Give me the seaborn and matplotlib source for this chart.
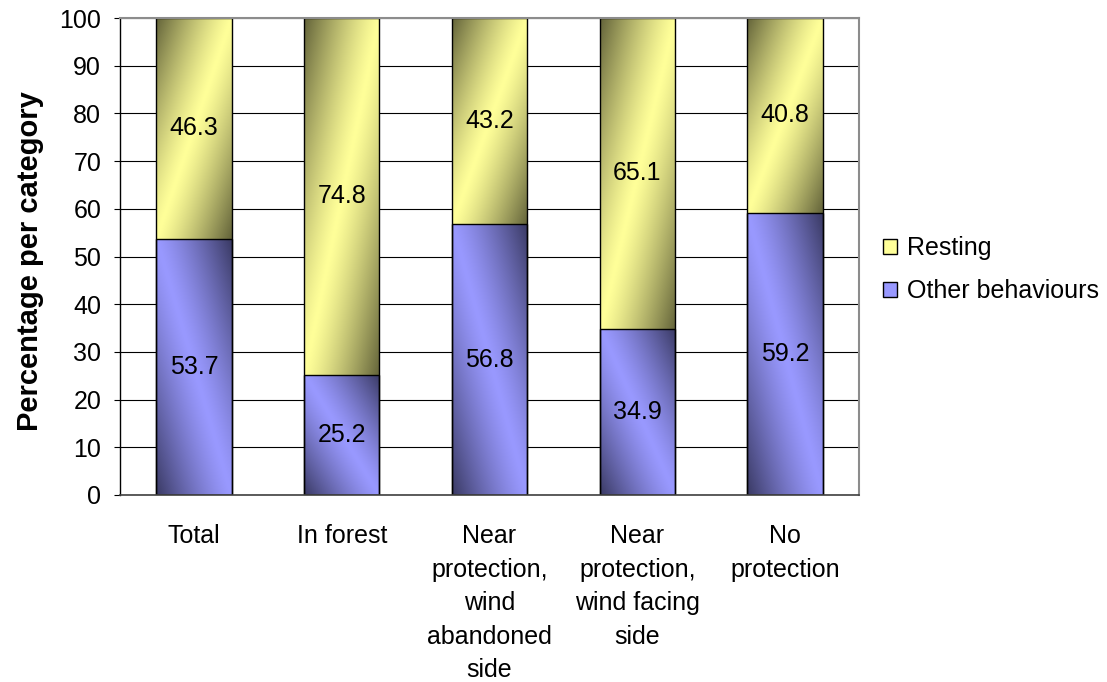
import numpy as np
import pandas as pd
import matplotlib
matplotlib.use("Agg")
import matplotlib.pyplot as plt
from matplotlib.patches import Patch
import seaborn as sns

# Data
categories = ["Total", "In forest",
              "Near\nprotection,\nwind\nabandoned\nside",
              "Near\nprotection,\nwind facing\nside",
              "No\nprotection"]
other_behaviours = [53.7, 25.2, 56.8, 34.9, 59.2]
resting = [46.3, 74.8, 43.2, 65.1, 40.8]

yellow = np.array([255, 255, 153]) / 255.0
blue = np.array([153, 153, 255]) / 255.0
yellow_dark = np.array([100, 100, 58]) / 255.0
blue_dark = np.array([58, 58, 100]) / 255.0

df = pd.DataFrame({
    "category": categories,
    "other": other_behaviours,
    "resting": resting,
})
df["total"] = df["other"] + df["resting"]

sns.set_style("white")
plt.rcParams["font.family"] = ["Liberation Sans", "DejaVu Sans"]
plt.rcParams["text.color"] = "black"
plt.rcParams["axes.labelcolor"] = "black"
plt.rcParams["xtick.color"] = "black"
plt.rcParams["ytick.color"] = "black"

fig = plt.figure(figsize=(11.07, 6.82), dpi=100)
ax = fig.add_axes([0.1084, 0.2742, 0.6676, 0.6994])

bar_w = 0.51
sns.barplot(data=df, x="category", y="total", color=yellow, saturation=1,
            width=bar_w, edgecolor="black", linewidth=1.0, ax=ax)
sns.barplot(data=df, x="category", y="other", color=blue, saturation=1,
            width=bar_w, edgecolor="black", linewidth=1.0, ax=ax)

n = len(categories)
patches = list(ax.patches)
top_patches = patches[:n]
bottom_patches = patches[n:2 * n]


def gradient(light, dark, flip, nx=60, ny=200):
    u = np.linspace(0, 1, nx)[None, :]
    v = np.linspace(0, 1, ny)[:, None]
    t = (u + (1 - v)) / 2 if flip else (u + v) / 2
    f = np.abs(2 * t - 1) ** 1.25
    return light[None, None, :] * (1 - f[..., None]) + dark[None, None, :] * f[..., None]


# Diagonal shaded fill for each stacked segment
for i in range(n):
    for p, lo, hi, light, dark, flip in (
        (top_patches[i], df["other"][i], df["total"][i], yellow, yellow_dark, True),
        (bottom_patches[i], 0.0, df["other"][i], blue, blue_dark, False),
    ):
        x0 = p.get_x()
        w = p.get_width()
        im = ax.imshow(gradient(light, dark, flip), extent=[x0, x0 + w, lo, hi],
                       origin="lower", aspect="auto", zorder=1.5, interpolation="bilinear")
        im.set_clip_path(p)
        p.set_facecolor("none")
        p.set_zorder(2)

# Value labels centred in each segment
for i in range(n):
    ax.text(i, df["other"][i] / 2, f"{df['other'][i]:.1f}", ha="center", va="center",
            fontsize=18, color="black", zorder=3)
    ax.text(i, df["other"][i] + df["resting"][i] / 2, f"{df['resting'][i]:.1f}",
            ha="center", va="center", fontsize=18, color="black", zorder=3)

ax.set_xlim(-0.5, n - 0.5)
ax.set_ylim(0, 100)
ax.set_yticks(np.arange(0, 101, 10))
ax.set_axisbelow(True)
ax.yaxis.grid(True, color="black", linewidth=0.8)
ax.xaxis.grid(False)

ax.set_xticks(range(n))
ax.set_xticklabels(categories, fontsize=18, linespacing=1.5)
ax.set_xticks(np.arange(-0.5, n, 1.0), minor=True)
ax.tick_params(axis="x", which="major", length=0, pad=21)
ax.tick_params(axis="x", which="minor", length=5, width=0.8, color="black", direction="out")
ax.tick_params(axis="y", which="major", length=4.5, width=0.8, color="black",
               direction="out", labelsize=18, pad=9, left=True)

ax.set_xlabel("")
ax.set_ylabel("Percentage per category", fontsize=21, fontweight="bold")
ax.yaxis.set_label_coords(-0.103, 0.49)

for side in ("top", "right"):
    ax.spines[side].set_color("#8c8c8c")
    ax.spines[side].set_linewidth(1.5)
ax.spines["left"].set_color("black")
ax.spines["left"].set_linewidth(1.0)
ax.spines["bottom"].set_color("#404040")
ax.spines["bottom"].set_linewidth(1.2)

handles = [Patch(facecolor=yellow, edgecolor="black", linewidth=1.0, label="Resting"),
           Patch(facecolor=blue, edgecolor="black", linewidth=1.0, label="Other behaviours")]
fig.legend(handles=handles, loc="center left", bbox_to_anchor=(0.7977, 0.6045),
           frameon=False, fontsize=18, handlelength=0.55, handleheight=0.55,
           handletextpad=0.4, labelspacing=0.75, borderpad=0, borderaxespad=0)

fig.savefig("out.png", dpi=100)
